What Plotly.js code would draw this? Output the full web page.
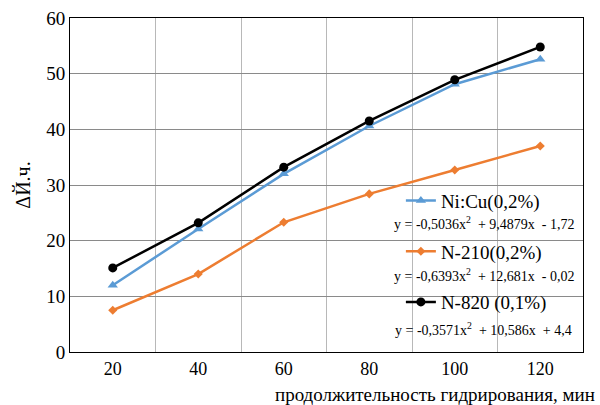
<!DOCTYPE html>
<html><head><meta charset="utf-8">
<script src="https://cdn.plot.ly/plotly-3.0.1.min.js"></script>
<style>body{margin:0;background:#fff}#c{width:600px;height:405px}</style>
</head><body><div id="c"></div>
<script>
const xCats = [20, 40, 60, 80, 100, 120];
const niCu = [12.0, 22.1, 32.0, 40.6, 48.1, 52.6];
const n210 = [7.5, 14.0, 23.3, 28.4, 32.7, 37.0];
const n820 = [15.1, 23.2, 33.2, 41.5, 48.9, 54.8];
const names = ["Ni:Cu(0,2%)", "N-210(0,2%)", "N-820 (0,1%)"];
const equations = [
  "y = -0,5036x<sup>2</sup>  + 9,4879x  - 1,72",
  "y = -0,6393x<sup>2</sup>  + 12,681x  - 0,02",
  "y = -0,3571x<sup>2</sup>  + 10,586x  + 4,4"
];
const yTitle = "ΔЙ.ч.";
const xTitle = "продолжительность гидрирования, мин";

const F = "Liberation Serif";
const traces = [
  {x: xCats, y: niCu, name: names[0], legendgroup: "a", mode: "lines+markers",
   line: {color: "#5B9BD5", width: 2.5}, marker: {symbol: "triangle-up", size: 9, color: "#5B9BD5"}},
  {x: xCats, y: n210, name: names[1], legendgroup: "b", mode: "lines+markers",
   line: {color: "#ED7D31", width: 2.5}, marker: {symbol: "diamond", size: 7, color: "#ED7D31"}},
  {x: xCats, y: n820, name: names[2], legendgroup: "c", mode: "lines+markers",
   line: {color: "#000000", width: 2.5}, marker: {symbol: "circle", size: 9, color: "#000000"}}
];
const layout = {
  width: 600, height: 405,
  margin: {l: 70, r: 17, t: 18, b: 53},
  paper_bgcolor: "#fff", plot_bgcolor: "#fff",
  font: {family: F, size: 17, color: "#000"},
  showlegend: true,
  legend: {x: 0.645, y: 0.51, xanchor: "left", yanchor: "top", bgcolor: "rgba(0,0,0,0)",
           font: {family: F, size: 19}, tracegroupgap: 23, itemwidth: 30},
  xaxis: {range: [10, 130], tickvals: xCats, ticktext: xCats.map(String),
          showgrid: false, zeroline: false, showline: true, linecolor: "#000", linewidth: 1, mirror: true,
          ticks: "", ticklen: 0,
          minor: {tickvals: [30, 50, 70, 90, 110], showgrid: true, gridcolor: "#b8b8b8", gridwidth: 1, ticks: ""},
          tickfont: {family: F, size: 18, color: "#000"}},
  yaxis: {range: [0, 60], dtick: 10, showgrid: true, gridcolor: "#8a8a8a", gridwidth: 1,
          zeroline: false, showline: true, linecolor: "#000", linewidth: 1, mirror: true,
          ticks: "", tickfont: {family: F, size: 19, color: "#000"},
          title: {text: yTitle, font: {family: F, size: 20, color: "#000"}, standoff: 10}},
  annotations: [
    {text: xTitle, xref: "paper", yref: "paper", x: 1.027, y: -0.126, xanchor: "right", yanchor: "middle",
     showarrow: false, font: {family: F, size: 19}},
    {text: equations[0], xref: "paper", yref: "paper", x: 0.989, y: 0.385, xanchor: "right", yanchor: "middle",
     showarrow: false, font: {family: F, size: 14}},
    {text: equations[1], xref: "paper", yref: "paper", x: 0.989, y: 0.23, xanchor: "right", yanchor: "middle",
     showarrow: false, font: {family: F, size: 14}},
    {text: equations[2], xref: "paper", yref: "paper", x: 0.983, y: 0.068, xanchor: "right", yanchor: "middle",
     showarrow: false, font: {family: F, size: 14}}
  ]
};
Plotly.newPlot("c", traces, layout, {displayModeBar: false, staticPlot: true});
</script></body></html>
